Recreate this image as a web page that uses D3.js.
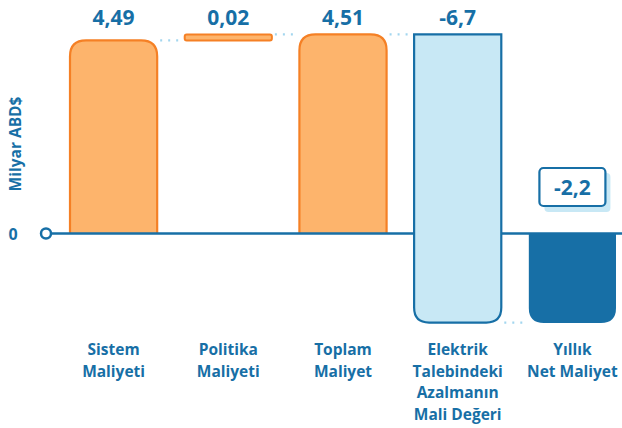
<!DOCTYPE html>
<html lang="tr">
<head>
<meta charset="UTF-8">
<script src="https://d3js.org/d3.v7.min.js"></script>
<style>
  body { margin: 0; background: #fff; }
  text { font-family: "Open Sans", "Noto Sans", sans-serif; font-weight: 700; fill: #176fa6; }
</style>
</head>
<body>
<div id="chart"></div>
<script>
// data
var categories = [["Sistem", "Maliyeti"], ["Politika", "Maliyeti"], ["Toplam", "Maliyet"],
                  ["Elektrik", "Talebindeki", "Azalmanın", "Mali Değeri"], ["Yıllık", "Net Maliyet"]];
var values = [4.49, 0.02, 4.51, -6.7, -2.2];
var kinds = ["cost", "cost", "total", "delta", "net"];
var valueLabels = ["4,49", "0,02", "4,51", "-6,7", "-2,2"];
var axisLabel = "Milyar ABD$";

var W = 622, H = 428;
var blue = "#176fa6", orange = "#f58025", orangeFill = "#fdb46c",
    lightBlue = "#c8e8f5", dotBlue = "#a3d6ef";

var svg = d3.select("#chart").append("svg").attr("width", W).attr("height", H);

var x = d3.scaleBand().domain(d3.range(values.length)).range([70, 616]).paddingInner(0.24);
var y = d3.scaleLinear().domain([-2.2, 4.51]).range([233.5 + 2.2 * 43, 233.5 - 4.51 * 43]);

// running totals for the waterfall
var run = 0, minH = 6, shift = 0;
var bars = values.map(function(v, i) {
  var s, e;
  if (kinds[i] === "total" || kinds[i] === "net") { s = 0; e = v; run = v; }
  else { s = run; e = run + v; run = e; }
  var sp = s === 0 ? y(0) : y(s) - shift;
  var ep = e === 0 ? y(0) : y(e) - shift;
  if (Math.abs(sp - ep) < minH) { var extra = minH - Math.abs(sp - ep); ep = sp - minH; shift += extra; }
  return { i: i, kind: kinds[i], top: Math.min(sp, ep), bot: Math.max(sp, ep), x: x(i), w: x.bandwidth() };
});

function topRound(b, r) {
  return "M" + b.x + "," + b.bot + "V" + (b.top + r) + "Q" + b.x + "," + b.top + " " + (b.x + r) + "," + b.top +
    "H" + (b.x + b.w - r) + "Q" + (b.x + b.w) + "," + b.top + " " + (b.x + b.w) + "," + (b.top + r) + "V" + b.bot;
}
function botRound(b, r) {
  return "M" + b.x + "," + b.top + "V" + (b.bot - r) + "Q" + b.x + "," + b.bot + " " + (b.x + r) + "," + b.bot +
    "H" + (b.x + b.w - r) + "Q" + (b.x + b.w) + "," + b.bot + " " + (b.x + b.w) + "," + (b.bot - r) + "V" + b.top + "Z";
}

// dotted connectors
var links = [[bars[0].top, 0], [bars[1].top, 1], [bars[2].top, 2], [bars[3].bot, 3]];
svg.selectAll(".link").data(links).enter().append("line")
  .attr("x1", function(d) { return bars[d[1]].x + bars[d[1]].w + 3; })
  .attr("x2", function(d) { return bars[d[1] + 1].x - 1; })
  .attr("y1", function(d) { return d[0]; }).attr("y2", function(d) { return d[0]; })
  .attr("stroke", dotBlue).attr("stroke-width", 2.2).attr("stroke-dasharray", "2,6");

// orange bars
bars.filter(function(b) { return b.kind === "cost" || b.kind === "total"; }).forEach(function(b) {
  if (b.bot - b.top < 10) {
    svg.append("rect").attr("x", b.x).attr("y", b.top).attr("width", b.w).attr("height", b.bot - b.top)
      .attr("rx", 2).attr("fill", orangeFill).attr("stroke", orange).attr("stroke-width", 2);
  } else {
    svg.append("path").attr("d", topRound(b, 16)).attr("fill", orangeFill)
      .attr("stroke", orange).attr("stroke-width", 2.2);
  }
});

// zero line
svg.append("line").attr("x1", 46).attr("x2", W).attr("y1", y(0)).attr("y2", y(0))
  .attr("stroke", blue).attr("stroke-width", 2.5);

// blue bars
var b4 = bars[3];
svg.append("path").attr("d", botRound(b4, 15)).attr("fill", lightBlue)
  .attr("stroke", blue).attr("stroke-width", 2.2);
var b5 = bars[4];
svg.append("path").attr("d", botRound(b5, 15)).attr("fill", blue);

svg.append("circle").attr("cx", 46).attr("cy", y(0)).attr("r", 5)
  .attr("fill", "#fff").attr("stroke", blue).attr("stroke-width", 2.5);
svg.append("text").attr("x", 13).attr("y", y(0) + 6).attr("text-anchor", "middle")
  .style("font-size", "16px").text("0");

// axis title
svg.append("text").attr("transform", "translate(21,144) rotate(-90)").attr("text-anchor", "middle")
  .style("font-size", "15.5px").text(axisLabel);

// value labels
bars.forEach(function(b, i) {
  if (b.kind === "net") return;
  svg.append("text").attr("x", b.x + b.w / 2).attr("y", 25).attr("text-anchor", "middle")
    .style("font-size", "21px").text(valueLabels[i]);
});
var cx = b5.x + b5.w / 2;
svg.append("rect").attr("x", cx - 28).attr("y", 173).attr("width", 66).attr("height", 39)
  .attr("rx", 4).attr("fill", lightBlue);
svg.append("rect").attr("x", cx - 33).attr("y", 168).attr("width", 66).attr("height", 38)
  .attr("rx", 4).attr("fill", "#fff").attr("stroke", blue).attr("stroke-width", 2.2);
svg.append("text").attr("x", cx).attr("y", 195).attr("text-anchor", "middle")
  .style("font-size", "21px").text(valueLabels[4]);

// category labels
bars.forEach(function(b, i) {
  var t = svg.append("text").attr("text-anchor", "middle").style("font-size", "15.5px");
  categories[i].forEach(function(line, k) {
    t.append("tspan").attr("x", b.x + b.w / 2).attr("y", 355 + k * 21.7).text(line);
  });
});
</script>
</body>
</html>
